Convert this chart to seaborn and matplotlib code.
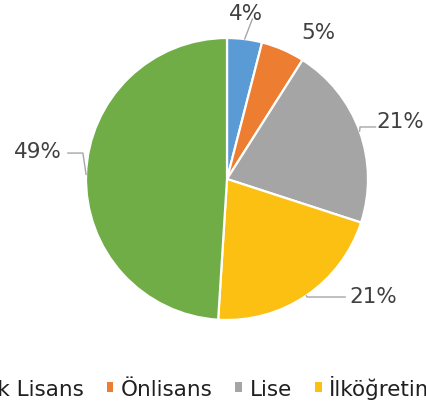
import matplotlib
matplotlib.use("Agg")
import matplotlib.pyplot as plt
import numpy as np
import seaborn as sns
from matplotlib.patches import Patch

# ---- data ----
categories = ["Yüksek Lisans", "Önlisans", "Lise", "İlköğretim", "Lisans"]
values = [4, 5, 21, 21, 49]
pct_labels = ["4%", "5%", "21%", "21%", "49%"]

# ---- styles ----
colors = sns.color_palette(["#5B9BD5", "#ED7D31", "#A5A5A5", "#FBC012", "#70AD47"])
# label text positions (in pie-radius units) and leader-line end points
label_pos = [(0.135, 1.18), (0.645, 1.045), (1.23, 0.41), (1.04, -0.83), (-1.34, 0.20)]
leader_pts = [
    [(0.18, 1.135)],
    None,
    [(0.943, 0.369), (1.055, 0.369)],
    [(0.567, -0.837), (0.84, -0.837)],
    [(-1.022, 0.184), (-1.13, 0.184)],
]
text_color = "#404040"
line_color = "#A6A6A6"

sns.set_theme(style="white")
plt.rcParams["font.family"] = ["DejaVu Sans"]

W, H = 427, 414
fig = plt.figure(figsize=(W / 100, H / 100), dpi=100)
cx, cy, R = 227, 180, 141
ax = fig.add_axes([(cx - R) / W, (H - cy - R) / H, 2 * R / W, 2 * R / H])

wedges, _ = ax.pie(values, colors=colors, startangle=90, counterclock=False,
                   wedgeprops=dict(edgecolor="white", linewidth=1.6))
ax.set_xlim(-1, 1)
ax.set_ylim(-1, 1)
ax.set_aspect("equal")
ax.axis("off")

for w, lab, pos, lp in zip(wedges, pct_labels, label_pos, leader_pts):
    mid = np.deg2rad((w.theta1 + w.theta2) / 2)
    edge = (np.cos(mid), np.sin(mid))
    ax.text(pos[0], pos[1], lab, ha="center", va="center", fontsize=15.5,
            color=text_color, clip_on=False)
    if lp is not None:
        pts = [edge] + list(lp)
        xs, ys = zip(*pts)
        ax.plot(xs, ys, color=line_color, lw=1.0, clip_on=False)

handles = [Patch(facecolor=c, edgecolor="none") for c in colors]
fig.legend(handles, categories, loc="center", bbox_to_anchor=(0.542, 1 - 388 / H),
           ncol=5, frameon=False, fontsize=15.5, handlelength=0.32, handleheight=0.32,
           handletextpad=0.35, columnspacing=1.05, labelcolor="#202020")

fig.savefig("out.png", dpi=100)
